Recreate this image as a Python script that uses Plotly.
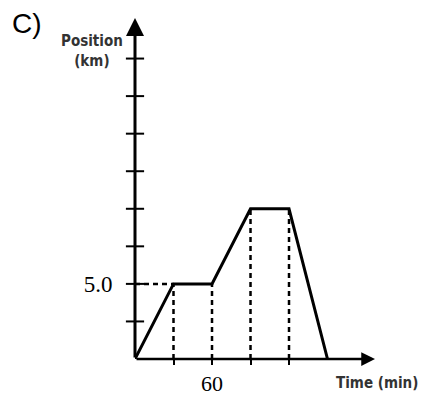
import plotly.graph_objects as go

# Data
times = [0, 30, 60, 90, 120, 150]          # min
positions = [0, 5, 5, 10, 10, 0]           # km
x_ticks = [30, 60, 90, 120]
x_tick_labels = ["", "60", "", ""]
y_ticks = [2.5, 5.0, 7.5, 10.0, 12.5, 15.0, 17.5, 20.0]
y_tick_labels = ["", "5.0", "", "", "", "", "", ""]
x_max = 187
y_max = 22.7

fig = go.Figure()

# vertical dashed guides from each corner point to the time axis
for t, p in zip(times[1:-1], positions[1:-1]):
    fig.add_trace(go.Scatter(x=[t, t], y=[0, p], mode="lines",
                             line=dict(color="black", width=2.5, dash="5px,4px"),
                             hoverinfo="skip", showlegend=False))
# horizontal dashed guide at 5.0
fig.add_trace(go.Scatter(x=[0, times[1]], y=[positions[1], positions[1]], mode="lines",
                         line=dict(color="black", width=2.5, dash="5px,4px"),
                         hoverinfo="skip", showlegend=False))
# main position-time line
fig.add_trace(go.Scatter(x=times, y=positions, mode="lines",
                         line=dict(color="black", width=3),
                         hoverinfo="skip", showlegend=False))
# y tick marks crossing the axis
fig.add_trace(go.Scatter(x=[0] * len(y_ticks), y=y_ticks, mode="markers",
                         marker=dict(symbol="line-ew", size=13,
                                     line=dict(color="black", width=2)),
                         hoverinfo="skip", showlegend=False, cliponaxis=False))

# axes as arrows
fig.add_annotation(x=x_max, y=0, ax=0, ay=0, xref="x", yref="y", axref="x", ayref="y",
                   showarrow=True, arrowhead=2, arrowsize=1.1, arrowwidth=2.5,
                   arrowcolor="black", text="", standoff=0)
fig.add_annotation(x=0, y=y_max, ax=0, ay=0, xref="x", yref="y", axref="x", ayref="y",
                   showarrow=True, arrowhead=2, arrowsize=1.2, arrowwidth=3,
                   arrowcolor="black", text="", standoff=0)

fig.update_layout(
    width=423, height=396,
    margin=dict(l=135, r=48, t=18, b=37, autoexpand=False),
    plot_bgcolor="white", paper_bgcolor="white",
    xaxis=dict(range=[0, x_max], showgrid=False, zeroline=False, showline=False,
               tickvals=x_ticks, ticktext=x_tick_labels, ticks="outside",
               ticklen=5, tickwidth=2, tickcolor="black", automargin=False,
               tickfont=dict(family="Liberation Serif", size=22, color="black")),
    yaxis=dict(range=[0, y_max], showgrid=False, zeroline=False, showline=False,
               tickvals=y_ticks, ticktext=y_tick_labels, ticks="outside",
               ticklen=17, tickcolor="rgba(0,0,0,0)", automargin=False,
               tickfont=dict(family="Liberation Serif", size=23, color="black")),
)

# text labels positioned in pixels via paper coordinates
W, H = 423, 396
L, R, T, B = 135, 48, 18, 37
pw, ph = W - L - R, H - T - B
def px(x, y):
    return (x - L) / pw, (H - B - y) / ph

for txt, (x, y), size, color, fam in [
    ("C)", (27, 24), 28, "black", "Liberation Sans"),
    ("<b>Position</b><br><b>(km)</b>", (92, 51), 15, "#333", "DejaVu Sans Condensed, DejaVu Sans"),
    ("<b>Time (min)</b>", (377, 383), 15, "#333", "DejaVu Sans Condensed, DejaVu Sans"),
]:
    xp, yp = px(x, y)
    fig.add_annotation(text=txt, x=xp, y=yp, xref="paper", yref="paper",
                       showarrow=False, xanchor="center", yanchor="middle",
                       font=dict(family=fam, size=size, color=color))

fig.write_html("out.html", config={"displayModeBar": False},
               post_script="document.body.style.margin='0';document.body.style.overflow='hidden';")
